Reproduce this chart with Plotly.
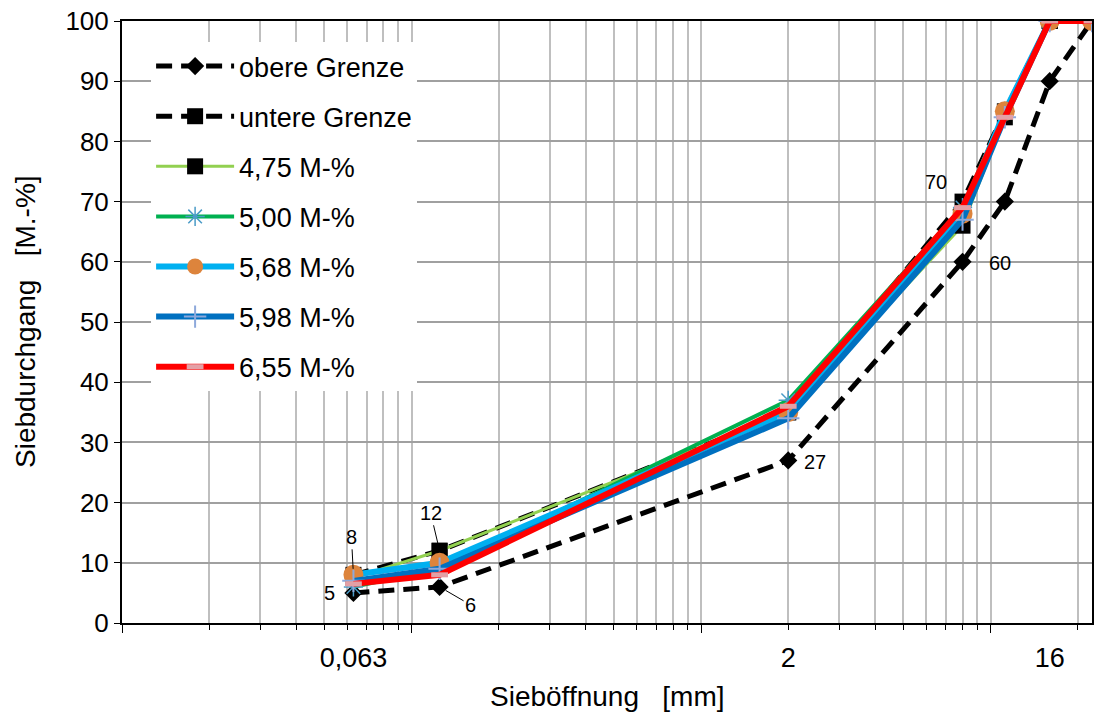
import math
import plotly.graph_objects as go

# Sieve openings [mm] and passing percentages [M.-%]
sieve = [0.063, 0.125, 2, 8, 11.2, 16, 22.4]
obere = [5, 6, 27, 60, 70, 90, 100]
untere = [8, 12, 35, 70, 85, 100, 100]
s_475 = [7.5, 12, 35, 66, 84, 100, 100]
s_500 = [6, 9, 37, 69, 85, 100, 100]
s_568 = [8, 10, 35, 68, 85, 100, 100]
s_598 = [7, 9, 34, 67, 84, 100, 100]
s_655 = [6.5, 8, 36, 69, 84, 100, 100]

x_ticks = [0.063, 2, 16]
x_tick_text = ["0,063", "2", "16"]
y_ticks = list(range(0, 101, 10))

FONT = "Liberation Sans, Arial, sans-serif"

# minor tick / grid positions: 1..9 x 10^k
minor_vals = [m * 10 ** k for k in (-2, -1, 0, 1) for m in range(1, 10)]
minor_vals = [v for v in minor_vals if v <= 22.4]
decades = [0.01, 0.1, 1, 10]

fig = go.Figure()

series = [
    dict(name="obere Grenze", y=obere, line=dict(color="black", width=5, dash="16px,9px"),
         marker=dict(symbol="diamond", size=14, color="black")),
    dict(name="untere Grenze", y=untere, line=dict(color="black", width=5, dash="16px,9px"),
         marker=dict(symbol="square", size=16, color="black")),
    dict(name="4,75 M-%", y=s_475, line=dict(color="#92D050", width=3),
         marker=dict(symbol="square", size=16, color="black")),
    dict(name="5,00 M-%", y=s_500, line=dict(color="#00B050", width=4),
         marker=dict(symbol="asterisk-open", size=16, color="#4A9BC7",
                     line=dict(color="#4A9BC7", width=1.5))),
    dict(name="5,68 M-%", y=s_568, line=dict(color="#00B0F0", width=6),
         marker=dict(symbol="circle", size=20, color="#DD843C")),
    dict(name="5,98 M-%", y=s_598, line=dict(color="#0070C0", width=6),
         marker=dict(symbol="cross-thin-open", size=16, color="#8EA9DB",
                     line=dict(color="#8EA9DB", width=2))),
    dict(name="6,55 M-%", y=s_655, line=dict(color="#FF0000", width=6),
         marker=dict(symbol="line-ew-open", size=12, color="#E3A0A6",
                     line=dict(color="#E3A0A6", width=5))),
]

for i, s in enumerate(series):
    fig.add_trace(go.Scatter(
        x=sieve, y=s["y"], name=s["name"], mode="lines+markers",
        line=s["line"], marker=s["marker"], legendgroup=f"g{i}",
    ))

# invisible trace carrying the longer decade ticks
fig.add_trace(go.Scatter(x=[0.01, 22.4], y=[None, None], xaxis="x2",
                         showlegend=False, hoverinfo="skip"))

lab_font = dict(family=FONT, size=20, color="black")


def lx(v):
    return math.log10(v)


# data labels for the limit curves
fig.add_annotation(x=lx(sieve[0]), y=obere[0], text=str(obere[0]), showarrow=False,
                   xshift=-24, yshift=0, font=lab_font)
fig.add_annotation(x=lx(sieve[1]), y=obere[1], text=str(obere[1]), showarrow=True,
                   arrowhead=0, arrowwidth=1, arrowcolor="black", ax=31, ay=18,
                   standoff=7, font=lab_font)
fig.add_annotation(x=lx(sieve[2]), y=obere[2], text=str(obere[2]), showarrow=False,
                   xshift=27, yshift=-2, font=lab_font)
fig.add_annotation(x=lx(sieve[3]), y=obere[3], text=str(obere[3]), showarrow=False,
                   xshift=37, yshift=-1, font=lab_font)
fig.add_annotation(x=lx(sieve[0]), y=untere[0], text=str(untere[0]), showarrow=True,
                   arrowhead=0, arrowwidth=1, arrowcolor="black", ax=-2, ay=-38,
                   standoff=6, font=lab_font)
fig.add_annotation(x=lx(sieve[1]), y=untere[1], text=str(untere[1]), showarrow=True,
                   arrowhead=0, arrowwidth=1, arrowcolor="black", ax=-9, ay=-38,
                   standoff=6, font=lab_font)
fig.add_annotation(x=lx(sieve[3]), y=untere[3], text=str(untere[3]), showarrow=False,
                   xshift=-27, yshift=20, font=lab_font)

# axis titles
fig.add_annotation(xref="paper", yref="paper", x=0.5, y=-0.1225, yanchor="middle",
                   text="Sieböffnung\u00a0\u00a0\u00a0[mm]", showarrow=False,
                   font=dict(family=FONT, size=28, color="black"))
fig.add_annotation(xref="paper", yref="paper", x=-0.1, y=0.5, xanchor="center",
                   text="Siebdurchgang\u00a0\u00a0\u00a0[M.-%]", showarrow=False, textangle=-90,
                   font=dict(family=FONT, size=28, color="black"))

fig.update_layout(
    width=1100, height=718,
    margin=dict(l=122, r=6, t=19, b=95),
    paper_bgcolor="white", plot_bgcolor="white",
    font=dict(family=FONT, size=26, color="black"),
    showlegend=True,
    legend=dict(
        x=0.03, y=0.965, xanchor="left", yanchor="top",
        bgcolor="white", borderwidth=0,
        font=dict(family=FONT, size=27, color="black"),
        tracegroupgap=12, itemwidth=78,
    ),
    xaxis=dict(
        type="log", range=[lx(0.01), lx(22.4)],
        tickmode="array", tickvals=x_ticks, ticktext=x_tick_text,
        ticks="", showgrid=False, zeroline=False, ticklabelstandoff=10,
        showline=True, linecolor="black", linewidth=2, mirror=True,
        tickfont=dict(family=FONT, size=27, color="black"),
        minor=dict(tickmode="array", tickvals=minor_vals, ticks="outside", ticklen=5,
                   tickcolor="black", tickwidth=1, showgrid=True,
                   gridcolor="#BFBFBF", gridwidth=2),
    ),
    xaxis2=dict(
        type="log", range=[lx(0.01), lx(22.4)], overlaying="x", anchor="y", side="bottom",
        tickmode="array", tickvals=decades, showticklabels=False, ticks="outside",
        ticklen=9, tickcolor="black", tickwidth=1, showgrid=False, zeroline=False,
        showline=False,
    ),
    yaxis=dict(
        range=[0, 100], tickmode="array", tickvals=y_ticks,
        ticks="outside", ticklen=6, tickcolor="black", tickwidth=1,
        showgrid=True, gridcolor="#A0A0A0", gridwidth=2, zeroline=False,
        showline=True, linecolor="black", linewidth=2, mirror=True,
        tickfont=dict(family=FONT, size=26, color="black"),
    ),
)

fig.write_html("out.html")
